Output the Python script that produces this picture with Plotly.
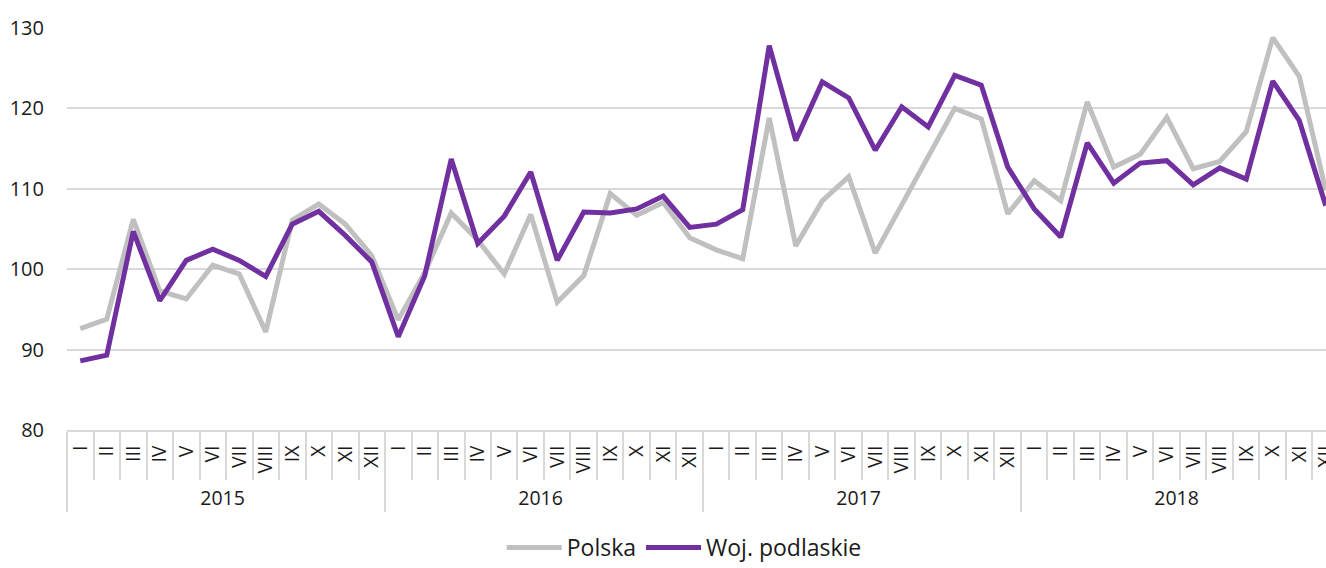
import plotly.graph_objects as go

years = ["2015", "2016", "2017", "2018"]
months = ["I", "II", "III", "IV", "V", "VI", "VII", "VIII", "IX", "X", "XI", "XII"]

polska = [
    92.6, 93.8, 106.2, 97.3, 96.3, 100.5, 99.4, 92.2, 106.1, 108.1, 105.6, 101.7,
    93.7, 99.6, 107.0, 103.6, 99.4, 106.8, 95.9, 99.2, 109.4, 106.7, 108.3, 103.9,
    102.4, 101.3, 118.8, 102.9, 108.5, 111.5, 102.0, 108.0, 114.1, 120.0, 118.7, 106.9,
    111.0, 108.5, 120.8, 112.7, 114.3, 118.9, 112.5, 113.4, 117.1, 128.8, 124.0, 109.8,
]
podlaskie = [
    88.6, 89.3, 104.7, 96.1, 101.1, 102.5, 101.1, 99.1, 105.6, 107.2, 104.2, 100.9,
    91.6, 99.2, 113.7, 103.2, 106.6, 112.1, 101.1, 107.1, 107.0, 107.5, 109.1, 105.2,
    105.6, 107.4, 127.8, 116.0, 123.3, 121.3, 114.8, 120.2, 117.7, 124.1, 122.9, 112.7,
    107.5, 104.0, 115.7, 110.7, 113.2, 113.5, 110.5, 112.6, 111.2, 123.4, 118.5, 107.9,
]

x_years = [y for y in years for _ in months]
x_months = [m for _ in years for m in months]

FONT = "Open Sans"
fig = go.Figure()
fig.add_trace(go.Scatter(x=[x_years, x_months], y=polska, mode="lines", name="Polska",
                         line=dict(color="#c0c0c0", width=5)))
fig.add_trace(go.Scatter(x=[x_years, x_months], y=podlaskie, mode="lines", name="Woj. podlaskie",
                         line=dict(color="#7030a0", width=5)))

fig.update_layout(
    width=1326, height=568, autosize=False,
    margin=dict(l=67, r=0, t=28, b=138),
    paper_bgcolor="white", plot_bgcolor="white",
    font=dict(family=FONT, color="#1a1a1a", size=19),
    showlegend=True,
    legend=dict(orientation="h", x=0.516, xanchor="center", xref="container",
                y=0.036, yanchor="middle", yref="container",
                font=dict(size=23, family=FONT, color="#1a1a1a"), itemwidth=55,
                tracegroupgap=0, bgcolor="rgba(0,0,0,0)"),
    xaxis=dict(type="multicategory", range=[-0.5, 47.01], tickangle=-90, automargin=False,
               showline=True, linecolor="#d9d9d9", linewidth=1.5,
               ticks="outside", ticklen=48, tickcolor="#d9d9d9", tickwidth=1.5,
               ticklabelstandoff=6,
               dividercolor="#d9d9d9", dividerwidth=1.5,
               showgrid=False, tickfont=dict(size=19.5, family=FONT, color="#1a1a1a")),
    yaxis=dict(range=[80, 130], tickvals=[80, 90, 100, 110, 120, 130], automargin=False,
               showgrid=True, gridcolor="#d9d9d9", gridwidth=1.5, zeroline=False,
               ticks="", ticklabelstandoff=22,
               tickfont=dict(size=20, family=FONT, color="#1a1a1a")),
)

fig.write_html(
    "out.html",
    config={"displayModeBar": False},
    post_script="document.body.style.margin='0';document.body.style.overflow='hidden';",
)
